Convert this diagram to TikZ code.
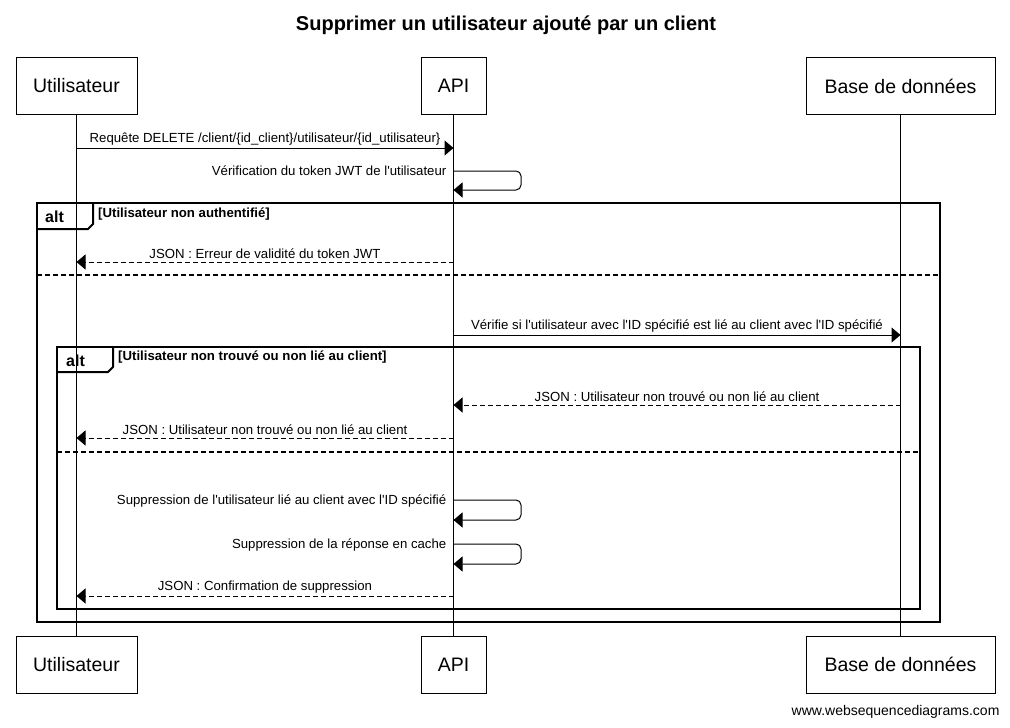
\documentclass[tikz,border=0pt]{standalone}
\usepackage{fontspec}
\setmainfont{Liberation Sans}[Ligatures=TeXOff]
\usetikzlibrary{arrows.meta}

\begin{document}
\begin{tikzpicture}[x=1pt, y=-1pt,
    actor/.style={draw, line width=1pt, minimum height=57pt, font=\fontsize{19.5}{22}\selectfont},
    lifeline/.style={line width=1pt},
    msg/.style={line width=1pt, -{Triangle[length=9pt, width=15pt]}},
    reply/.style={msg, dash pattern=on 5pt off 3pt},
    msglabel/.style={font=\fontsize{13.2}{15}\selectfont, inner sep=2.5pt},
    frame/.style={line width=2pt},
    seprule/.style={line width=1.6pt, dash pattern=on 5pt off 3pt},
    guard/.style={font=\bfseries\fontsize{13.2}{15}\selectfont, anchor=west, inner sep=0pt}]
    \useasboundingbox (0,0) rectangle (1010,728);

    \node[font=\bfseries\fontsize{20}{23}\selectfont] (title) at (506,25) {Supprimer un utilisateur ajouté par un client};

    \node[actor, minimum width=121pt] (ut) at (76.5,86) {Utilisateur};
    \node[actor, minimum width=65pt] (api) at (453.5,86) {API};
    \node[actor, minimum width=189pt] (bd) at (900.5,86) {Base de données};
    \node[actor, minimum width=121pt] (utb) at (76.5,664.5) {Utilisateur};
    \node[actor, minimum width=65pt] (apib) at (453.5,664.5) {API};
    \node[actor, minimum width=189pt] (bdb) at (900.5,664.5) {Base de données};

    \draw[lifeline] (ut) -- (utb);
    \draw[lifeline] (api) -- (apib);
    \draw[lifeline] (bd) -- (bdb);

    \draw[msg] (ut |- 0,148) -- (api |- 0,148) node[midway, above, msglabel] {Requête DELETE /client/\{id\_client\}/utilisateur/\{id\_utilisateur\}};
    \draw[msg, rounded corners=5pt] (api |- 0,171) -- (521,171) -- (521,190) -- (api |- 0,190);
    \node[msglabel, anchor=east] at (449,171) {Vérification du token JWT de l'utilisateur};

    % alt 1
    \draw[frame] (37,203) rectangle (940,622);
    \draw[frame] (37,229) -- (88,229) -- (93,224) -- (93,203);
    \node[font=\bfseries\fontsize{16}{18}\selectfont, anchor=west, inner sep=0pt] at (45,217) {alt};
    \node[guard] at (98,214) {[Utilisateur non authentifié]};
    \draw[reply] (api |- 0,262) -- (ut |- 0,262) node[midway, above, msglabel] {JSON : Erreur de validité du token JWT};
    \draw[seprule] (37,275) -- (940,275);

    \draw[msg] (api |- 0,335) -- (bd |- 0,335) node[midway, above, msglabel] {Vérifie si l'utilisateur avec l'ID spécifié est lié au client avec l'ID spécifié};

    % alt 2
    \draw[frame] (57,347) rectangle (920,609);
    \draw[frame] (57,372) -- (108,372) -- (113,367) -- (113,347);
    \node[font=\bfseries\fontsize{16}{18}\selectfont, anchor=west, inner sep=0pt] at (66,361) {alt};
    \node[guard] at (118,357) {[Utilisateur non trouvé ou non lié au client]};
    \draw[reply] (bd |- 0,405) -- (api |- 0,405) node[midway, above, msglabel] {JSON : Utilisateur non trouvé ou non lié au client};
    \draw[reply] (api |- 0,438) -- (ut |- 0,438) node[midway, above, msglabel] {JSON : Utilisateur non trouvé ou non lié au client};
    \draw[seprule] (57,452) -- (920,452);

    \draw[msg, rounded corners=5pt] (api |- 0,500) -- (521,500) -- (521,520) -- (api |- 0,520);
    \node[msglabel, anchor=east] at (449,501) {Suppression de l'utilisateur lié au client avec l'ID spécifié};
    \draw[msg, rounded corners=5pt] (api |- 0,544) -- (521,544) -- (521,564) -- (api |- 0,564);
    \node[msglabel, anchor=east] at (449,545) {Suppression de la réponse en cache};
    \draw[reply] (api |- 0,596) -- (ut |- 0,596) node[midway, above, msglabel] {JSON : Confirmation de suppression};

    \node[font=\fontsize{14}{16}\selectfont, anchor=east] (credit) at (1003,712) {www.websequencediagrams.com};
\end{tikzpicture}
\end{document}
